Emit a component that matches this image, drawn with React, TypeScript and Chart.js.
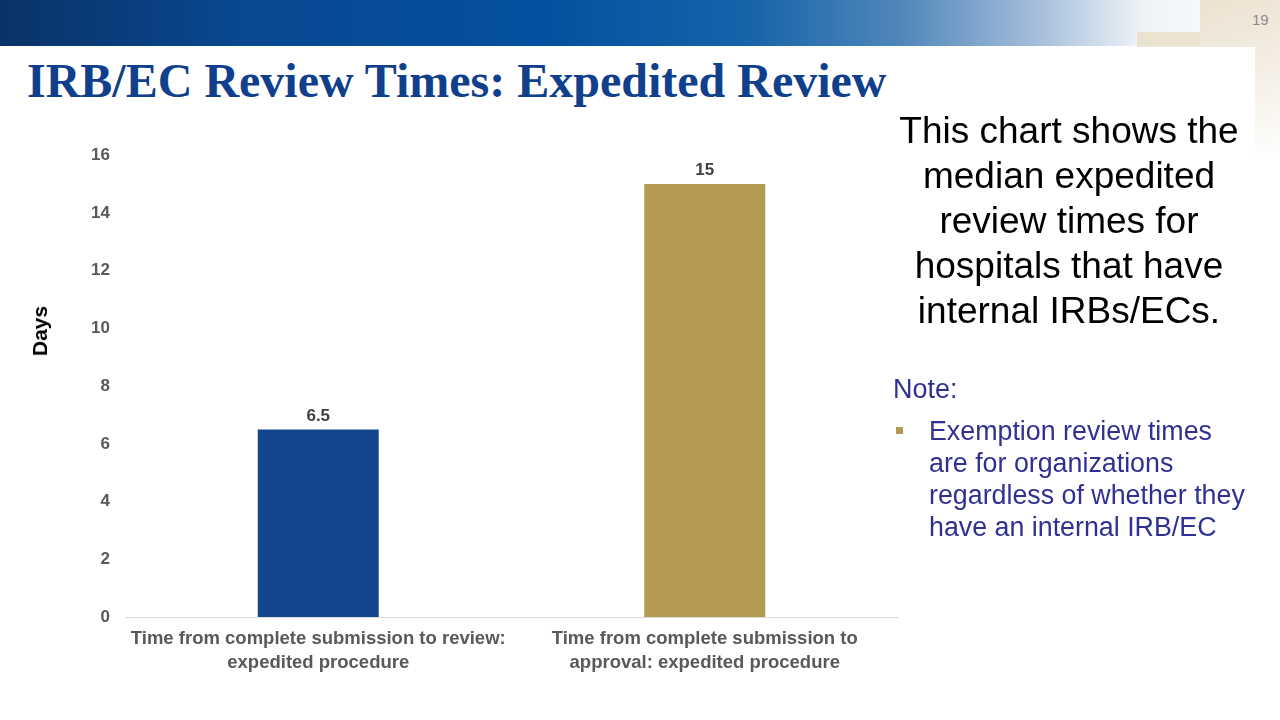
import React, { useEffect, useRef } from "react";
import { Chart, registerables } from "chart.js";

Chart.register(...registerables);

const categories: string[][] = [
  ["Time from complete submission to review:", "expedited procedure"],
  ["Time from complete submission to", "approval: expedited procedure"],
];
const values: number[] = [6.5, 15];
const valueLabels: string[] = ["6.5", "15"];
const barColors: string[] = ["#12478f", "#b49a52"];
const yTicks: number[] = [0, 2, 4, 6, 8, 10, 12, 14, 16];

const titleText = "IRB/EC Review Times: Expedited Review";
const sideLines = [
  "This chart shows the",
  "median expedited",
  "review times for",
  "hospitals that have",
  "internal IRBs/ECs.",
];
const noteLines = [
  "Exemption review times",
  "are for organizations",
  "regardless of whether they",
  "have an internal IRB/EC",
];

const valueLabelPlugin = {
  id: "valueLabels",
  afterDatasetsDraw(chart: any) {
    const ctx = chart.ctx;
    const meta = chart.getDatasetMeta(0);
    ctx.save();
    ctx.font = "bold 17px 'Liberation Sans', Arial, sans-serif";
    ctx.fillStyle = "#404040";
    ctx.textAlign = "center";
    ctx.textBaseline = "bottom";
    meta.data.forEach((bar: any, i: number) => {
      ctx.fillText(valueLabels[i], bar.x, bar.y - 5);
    });
    ctx.restore();
  },
};

export default function App() {
  const canvasRef = useRef<HTMLCanvasElement | null>(null);

  useEffect(() => {
    document.body.style.margin = "0";
    const chart = new Chart(canvasRef.current as HTMLCanvasElement, {
      type: "bar",
      data: {
        labels: categories,
        datasets: [
          {
            data: values,
            backgroundColor: barColors,
            barPercentage: 1,
            categoryPercentage: 0.313,
          },
        ],
      },
      options: {
        animation: false,
        responsive: false,
        maintainAspectRatio: false,
        layout: { padding: { top: 17, right: 2, left: 0, bottom: 0 } },
        plugins: {
          legend: { display: false },
          tooltip: { enabled: false },
        },
        scales: {
          x: {
            grid: { display: false, drawTicks: false },
            border: { display: true, color: "#d9d9d9", width: 1 },
            ticks: {
              color: "#595959",
              padding: 10,
              maxRotation: 0,
              autoSkip: false,
              font: { family: "'Liberation Sans', Arial, sans-serif", size: 18.5, weight: "bold", lineHeight: 1.3 },
            },
            afterFit: (s: any) => {
              s.height = 83;
            },
          },
          y: {
            min: 0,
            max: 16,
            afterBuildTicks: (s: any) => {
              s.ticks = yTicks.map((v) => ({ value: v }));
            },
            grid: { display: false, drawTicks: false },
            border: { display: false },
            ticks: {
              color: "#595959",
              padding: 15,
              font: { family: "'Liberation Sans', Arial, sans-serif", size: 17, weight: "bold" },
            },
            afterFit: (s: any) => {
              s.width = 125;
            },
          },
        },
      },
      plugins: [valueLabelPlugin],
    });
    return () => chart.destroy();
  }, []);

  return (
    <div
      style={{
        position: "fixed",
        left: 0,
        top: 0,
        width: 1280,
        height: 720,
        background: "#ffffff",
        overflow: "hidden",
        fontFamily: "'Liberation Sans', Arial, sans-serif",
      }}
    >
      {/* right beige decoration */}
      <div
        style={{
          position: "absolute",
          left: 1137,
          top: 0,
          width: 143,
          height: 160,
          background: "linear-gradient(160deg, #eadfcb 0%, #f3ede2 50%, #ffffff 100%)",
        }}
      />
      {/* header gradient */}
      <div
        style={{
          position: "absolute",
          left: 0,
          top: 0,
          width: 1200,
          height: 46,
          background:
            "linear-gradient(90deg, #0a3268 0%, #08488f 20%, #0450a0 45%, #1563a8 62%, #4f86ba 75%, #a9c1db 87%, #eef2f7 95%, #f6f8fb 100%)",
        }}
      />
      <div
        style={{
          position: "absolute",
          left: 1137,
          top: 32,
          width: 63,
          height: 14,
          background: "#ece2d0",
        }}
      />
      <div
        style={{
          position: "absolute",
          left: 1252,
          top: 11,
          fontSize: 15,
          color: "#8c8c8c",
        }}
      >
        19
      </div>
      {/* white content panel */}
      <div
        style={{
          position: "absolute",
          left: 0,
          top: 47,
          width: 1255,
          height: 673,
          background: "#ffffff",
        }}
      />
      {/* title */}
      <div
        style={{
          position: "absolute",
          left: 27,
          top: 51,
          fontFamily: "'Liberation Serif', 'Times New Roman', serif",
          fontWeight: "bold",
          fontSize: 48,
          color: "#103f8b",
          whiteSpace: "nowrap",
          lineHeight: "60px",
        }}
      >
        {titleText}
      </div>
      {/* chart */}
      <canvas
        ref={canvasRef}
        width={900}
        height={570}
        style={{ position: "absolute", left: 0, top: 130, width: 900, height: 570 }}
      />
      {/* y-axis title */}
      <div
        style={{
          position: "absolute",
          left: 40,
          top: 331,
          transform: "translate(-50%, -50%) rotate(-90deg)",
          fontWeight: "bold",
          fontSize: 21,
          color: "#000000",
          whiteSpace: "nowrap",
        }}
      >
        Days
      </div>
      {/* side text */}
      <div
        style={{
          position: "absolute",
          left: 880,
          top: 108,
          width: 378,
          textAlign: "center",
          fontSize: 37,
          lineHeight: "45px",
          color: "#000000",
          whiteSpace: "nowrap",
        }}
      >
        {sideLines.map((l, i) => (
          <div key={i}>{l}</div>
        ))}
      </div>
      <div
        style={{
          position: "absolute",
          left: 893,
          top: 373,
          fontSize: 27,
          lineHeight: "32px",
          color: "#2e3192",
        }}
      >
        Note:
      </div>
      <div
        style={{
          position: "absolute",
          left: 896,
          top: 427,
          width: 7,
          height: 7,
          background: "#b49a52",
        }}
      />
      <div
        style={{
          position: "absolute",
          left: 929,
          top: 415,
          fontSize: 26.8,
          lineHeight: "32px",
          color: "#2e3192",
          whiteSpace: "nowrap",
        }}
      >
        {noteLines.map((l, i) => (
          <div key={i}>{l}</div>
        ))}
      </div>
    </div>
  );
}
